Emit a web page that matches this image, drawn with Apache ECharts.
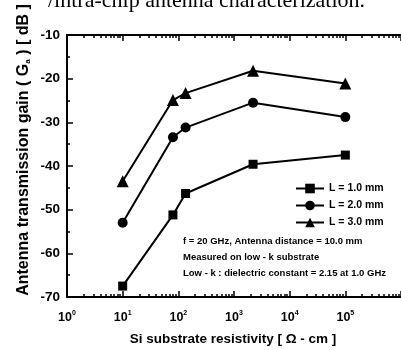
<!DOCTYPE html>
<html><head><meta charset="utf-8">
<script src="https://cdn.jsdelivr.net/npm/echarts@6/dist/echarts.min.js"></script>
<style>html,body{margin:0;padding:0;background:#fff}#c{width:401px;height:350px}</style>
</head><body><div id="c"></div>
<script>
const resistivity = [10, 80, 135, 2200, 100000];
const gainL1 = [-67.5, -51.2, -46.3, -39.6, -37.5];
const gainL2 = [-53.0, -33.4, -31.2, -25.5, -28.8];
const gainL3 = [-43.5, -24.9, -23.3, -18.2, -21.1];
const seriesNames = ['L = 1.0 mm', 'L = 2.0 mm', 'L = 3.0 mm'];
const xMajorTicks = [1, 10, 100, 1000, 10000, 100000, 1000000];
const yTicks = [-70, -60, -50, -40, -30, -20, -10];
const noteLines = ['f = 20 GHz, Antenna distance = 10.0 mm', 'Measured on low - k substrate', 'Low - k : dielectric constant = 2.15 at 1.0 GHz'];

const xMinor = [];
for (let d = 0; d < xMajorTicks.length - 1; d++) for (let m = 2; m <= 9; m++) xMinor.push(m * xMajorTicks[d]);

const F = 'Liberation Sans, Arial, sans-serif';
const chart = echarts.init(document.getElementById('c'));
const gridCfg = {left: 67, top: 35, width: 372.6, height: 262};
const baseX = (pos, show, custom, len) => ({
  type: 'log', logBase: 10, min: 1, max: 1000000, position: pos,
  axisLine: {show: show, lineStyle: {color: '#000', width: 2}},
  axisTick: {show: true, inside: true, length: len, customValues: custom, lineStyle: {color: '#000', width: 1.5}},
  splitLine: {show: false}, axisLabel: {show: false}
});
const xMain = baseX('bottom', true, xMajorTicks, 6);
xMain.axisLabel = {show: true, margin: 13, customValues: xMajorTicks.slice(0, 6),
  formatter: v => '{b|10}{s|' + Math.round(Math.log10(v)) + '}',
  rich: {b: {fontFamily: F, fontWeight: 'bold', fontSize: 12.5, color: '#000'},
         s: {fontFamily: F, fontWeight: 'bold', fontSize: 7, color: '#000', padding: [0, 0, 9, 0]}}};
const mk = (name, data, sym, size) => ({
  name: name, type: 'line', data: resistivity.map((x, i) => [x, data[i]]),
  symbol: sym, symbolSize: size, xAxisIndex: 0, yAxisIndex: 0,
  lineStyle: {color: '#000', width: 2}, itemStyle: {color: '#000'}
});
chart.setOption({
  animation: false,
  grid: gridCfg,
  xAxis: [xMain, baseX('top', true, xMajorTicks, 6), baseX('bottom', false, xMinor, 3), baseX('top', false, xMinor, 3)],
  yAxis: [{
    type: 'value', min: -70, max: -10, interval: 10,
    axisLine: {show: true, lineStyle: {color: '#000', width: 2}},
    axisTick: {show: true, inside: true, length: 6, lineStyle: {color: '#000', width: 1.5}},
    minorTick: {show: true, splitNumber: 2, length: 3, lineStyle: {color: '#000', width: 1.5}},
    splitLine: {show: false},
    axisLabel: {margin: 7, fontFamily: F, fontWeight: 'bold', fontSize: 13.5, color: '#000', customValues: yTicks}
  }],
  legend: {
    left: 290, top: 177, orient: 'vertical', itemGap: 4, itemWidth: 28, itemHeight: 12,
    textStyle: {fontFamily: F, fontWeight: 'bold', fontSize: 10.5, color: '#000', lineHeight: 13},
    data: seriesNames
  },
  series: [mk(seriesNames[0], gainL1, 'rect', 9), mk(seriesNames[1], gainL2, 'circle', 10), mk(seriesNames[2], gainL3, 'triangle', 12)],
  graphic: [
    {type: 'text', x: 48, y: 12, style: {text: '/intra-chip antenna characterization.', verticalAlign: 'bottom', font: '22px "Liberation Serif", serif', fill: '#000'}},
    {type: 'text', x: 233, y: 339, style: {text: 'Si substrate resistivity [ Ω - cm ]', align: 'center', verticalAlign: 'middle', font: 'bold 13.5px ' + F, fill: '#000'}},
    {type: 'text', x: 24, y: 150, rotation: Math.PI / 2, style: {
      text: '{n|Antenna transmission gain ( G}{sub|a}{n| ) [ dB ]}', align: 'center', verticalAlign: 'middle',
      rich: {n: {fontFamily: F, fontWeight: 'bold', fontSize: 16, color: '#000'},
             sub: {fontFamily: F, fontWeight: 'bold', fontSize: 8, color: '#000', padding: [8, 0, 0, 0]}}}},
    ...noteLines.map((t, i) => ({type: 'text', left: 183, top: 236 + i * 16, style: {text: t, font: 'bold 9.5px ' + F, fill: '#000'}}))
  ]
});
</script></body></html>
